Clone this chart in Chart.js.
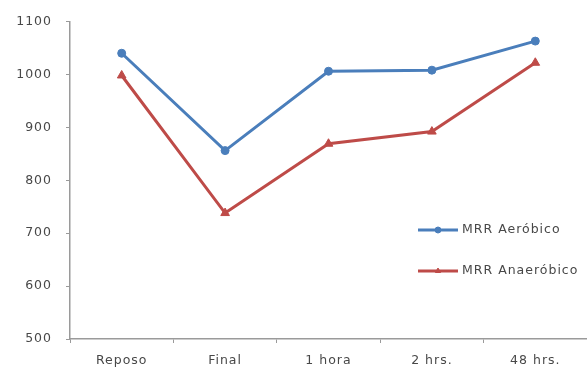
<!DOCTYPE html>
<html>
<head>
<meta charset="utf-8">
<script src="https://cdn.jsdelivr.net/npm/chart.js"></script>
<style>
    html, body { margin: 0; padding: 0; background: #fff; }
    #wrap { width: 587px; height: 374px; }
</style>
</head>
<body>
<div id="wrap"><canvas id="myChart" width="587" height="374"></canvas></div>
<script>
const categories = ['Reposo', 'Final', '1 hora', '2 hrs.', '48 hrs.'];
const aerobico = [1040, 856, 1006, 1008, 1063];
const anaerobico = [998, 738, 869, 892, 1022];
const yTicks = [500, 600, 700, 800, 900, 1000, 1100];

const seriesNames = ['MRR Aeróbico', 'MRR Anaeróbico'];
const blue = '#4A7EBB';
const red = '#BE4B48';
const textColor = '#484848';
const axisColor = '#9a9a9a';
const labelFont = { family: 'DejaVu Sans', size: 12.5 };

// legend drawn inside the plot, like the original
const insideLegend = {
    id: 'insideLegend',
    beforeDraw: function(chart) {
        chart.ctx.letterSpacing = '1px';
    },
    afterDraw: function(chart) {
        const ctx = chart.ctx;
        const rows = [230, 271];
        ctx.save();
        chart.data.datasets.forEach(function(ds, i) {
            const y = rows[i];
            ctx.strokeStyle = ds.borderColor;
            ctx.lineWidth = 3;
            ctx.beginPath();
            ctx.moveTo(418, y);
            ctx.lineTo(458, y);
            ctx.stroke();
            ctx.fillStyle = ds.borderColor;
            ctx.lineWidth = 1;
            Chart.helpers.drawPoint(ctx, {
                pointStyle: ds.pointStyle,
                radius: 3,
                borderWidth: 1
            }, 438, y);
            ctx.fillStyle = textColor;
            ctx.font = '12.5px "DejaVu Sans"';
            ctx.textBaseline = 'middle';
            ctx.fillText(ds.label, 462, y);
        });
        ctx.restore();
    }
};

const ctx = document.getElementById('myChart').getContext('2d');
const myChart = new Chart(ctx, {
    type: 'line',
    data: {
        labels: categories,
        datasets: [
            {
                label: seriesNames[0],
                data: aerobico,
                borderColor: blue,
                backgroundColor: blue,
                borderWidth: 3,
                pointStyle: 'circle',
                pointRadius: 4,
                pointBorderWidth: 1,
                tension: 0,
            },
            {
                label: seriesNames[1],
                data: anaerobico,
                borderColor: red,
                backgroundColor: red,
                borderWidth: 3,
                pointStyle: 'triangle',
                pointRadius: 5,
                pointBorderWidth: 1,
                tension: 0,
            },
        ],
    },
    options: {
        responsive: false,
        animation: false,
        layout: {
            autoPadding: false,
            padding: { top: 19, right: 0, left: 0, bottom: 0 },
        },
        plugins: {
            legend: { display: false },
            tooltip: { enabled: false },
        },
        scales: {
            x: {
                offset: true,
                grid: {
                    offset: true,
                    drawOnChartArea: false,
                    drawTicks: true,
                    tickLength: 4,
                    color: axisColor,
                },
                border: { color: axisColor, width: 1.5 },
                ticks: {
                    color: textColor,
                    font: labelFont,
                    padding: 10,
                },
                afterFit: function(scale) { scale.height = 35; },
            },
            y: {
                min: 500,
                max: 1100,
                afterBuildTicks: function(scale) {
                    scale.ticks = yTicks.map(function(v) { return { value: v }; });
                },
                grid: {
                    drawOnChartArea: false,
                    drawTicks: true,
                    tickLength: 4,
                    color: axisColor,
                },
                border: { color: axisColor, width: 1.5 },
                ticks: {
                    color: textColor,
                    font: labelFont,
                    padding: 14,
                    callback: function(value) { return String(value); },
                },
                afterFit: function(scale) { scale.width = 70; },
            },
        },
    },
    plugins: [insideLegend],
});
</script>
</body>
</html>
